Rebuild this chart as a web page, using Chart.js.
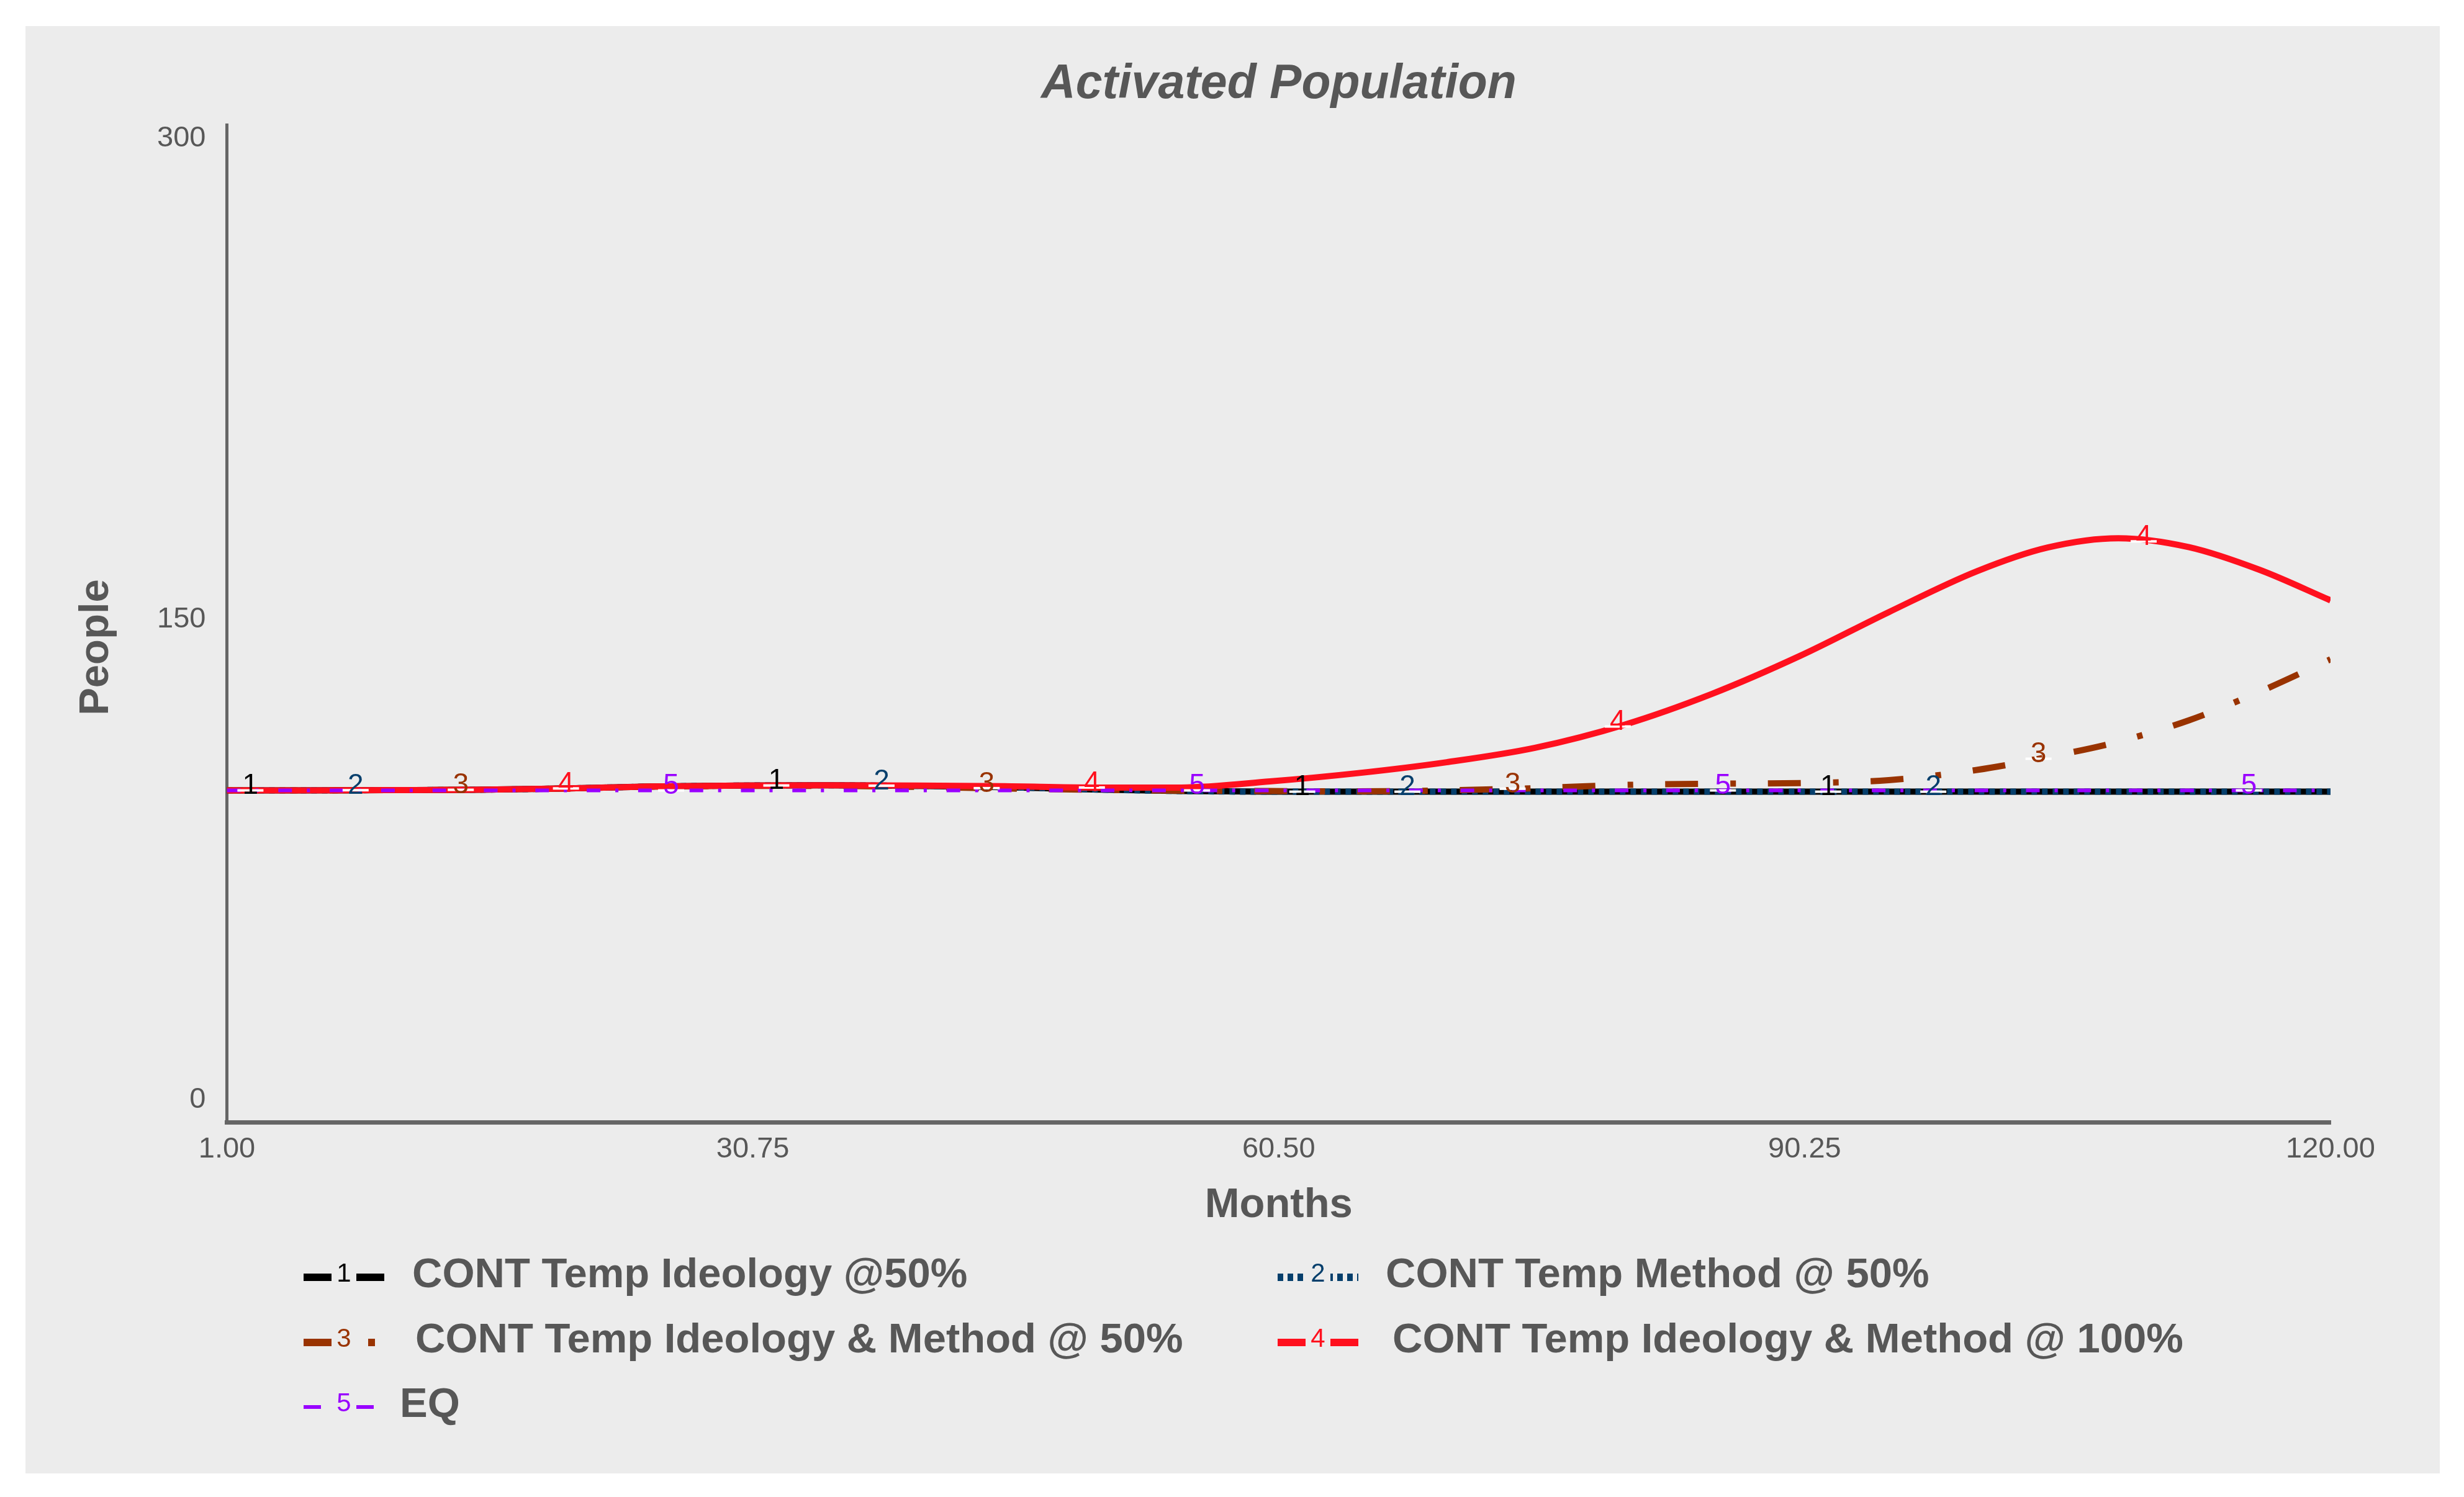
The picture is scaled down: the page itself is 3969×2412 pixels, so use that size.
<!DOCTYPE html>
<html>
<head>
<meta charset="utf-8">
<script src="https://cdn.jsdelivr.net/npm/chart.js@4.4.1/dist/chart.umd.min.js"></script>
<style>
html,body{margin:0;padding:0;background:#ffffff;overflow:hidden}
canvas{display:block}
</style>
</head>
<body>
<canvas id="c" width="3969" height="2412" style="width:3969px;height:2412px"></canvas>
<script>
// ---------------- data ----------------
const months = [1, 5, 10, 15, 20, 25, 30, 35, 40, 45, 50, 55, 60, 65, 70, 75, 80, 85, 90, 95, 100, 104, 108, 112, 116, 120];

const contIdeology50 = [96.6, 96.6, 96.7, 96.8, 97.2, 97.8, 98.1, 98.2, 98.0, 97.6, 96.9, 96.4, 96.2, 96.2, 96.2, 96.2, 96.2, 96.2, 96.2, 96.2, 96.2, 96.2, 96.2, 96.2, 96.2, 96.2];
const contMethod50 = [96.6, 96.6, 96.7, 96.8, 97.2, 97.8, 98.1, 98.2, 98.0, 97.6, 96.9, 96.4, 96.2, 96.2, 96.2, 96.2, 96.2, 96.2, 96.2, 96.2, 96.2, 96.2, 96.2, 96.2, 96.2, 96.2];
const contIdeoMethod50 = [96.6, 96.6, 96.7, 96.8, 97.2, 97.8, 98.0, 98.0, 97.7, 97.2, 96.8, 96.5, 96.4, 96.3, 96.6, 97.3, 98.3, 98.7, 98.9, 99.8, 103.0, 107.0, 111.8, 118.5, 127.4, 137.5];
const contIdeoMethod100 = [96.6, 96.6, 96.7, 96.8, 97.2, 97.8, 98.1, 98.2, 98.1, 97.9, 97.5, 97.5, 99.4, 102.0, 105.4, 109.9, 117.0, 126.7, 138.6, 152.2, 165.0, 172.4, 175.3, 172.5, 165.4, 155.9];
const eq = [96.6, 96.6, 96.6, 96.6, 96.6, 96.6, 96.6, 96.6, 96.6, 96.6, 96.6, 96.6, 96.6, 96.6, 96.6, 96.6, 96.6, 96.6, 96.6, 96.6, 96.6, 96.6, 96.6, 96.6, 96.6, 96.6];

const seriesNames = ['CONT Temp Ideology @50%', 'CONT Temp Method @ 50%', 'CONT Temp Ideology & Method @ 50%', 'CONT Temp Ideology & Method @ 100%', 'EQ'];
const seriesNumbers = ['1', '2', '3', '4', '5'];
const xTickValues = [1, 30.75, 60.5, 90.25, 120];
const yTickValues = [0, 150, 300];

const chartTitle = 'Activated Population';
const xTitle = 'Months';
const yTitle = 'People';

// ---------------- styles ----------------
const allSeries = [contIdeology50, contMethod50, contIdeoMethod50, contIdeoMethod100, eq];
const colors = ['#000000', '#063f6c', '#993300', '#ff101e', '#9900ff'];
const widths = [10, 10, 10, 10, 6];
const dashes = [[], [9, 8], [53, 52, 9, 51.5], [], [22, 24, 5, 31.8]];
const legendDashes = [[], [9, 7], [47, 57, 11, 100], [], [28, 57, 28, 100]];
const drawOrder = [5, 4, 3, 2, 1];
const FONT = '"Liberation Sans", Arial, Helvetica, sans-serif';
const TXT = '#575757';
const BG = '#ececec';

function interp(xs, ys, x) {
  for (let i = 0; i < xs.length - 1; i++) {
    if (x >= xs[i] && x <= xs[i + 1]) {
      const t = (x - xs[i]) / (xs[i + 1] - xs[i]);
      return ys[i] + t * (ys[i + 1] - ys[i]);
    }
  }
  return ys[ys.length - 1];
}

const datasets = allSeries.map((s, i) => ({
  label: seriesNames[i],
  data: months.map((m, j) => ({ x: m, y: s[j] })),
  borderColor: colors[i],
  backgroundColor: colors[i],
  borderWidth: widths[i],
  borderDash: dashes[i],
  borderDashOffset: 0,
  borderCapStyle: 'butt',
  borderJoinStyle: 'round',
  pointRadius: 0,
  pointHoverRadius: 0,
  fill: false,
  cubicInterpolationMode: 'monotone',
  order: drawOrder[i]
}));

const decorPlugin = {
  id: 'decor',
  beforeDraw(chart) {
    const ctx = chart.ctx;
    ctx.save();
    ctx.fillStyle = '#ffffff';
    ctx.fillRect(0, 0, chart.width, chart.height);
    ctx.fillStyle = BG;
    ctx.fillRect(41, 42, 3930 - 41, 2374 - 42);
    ctx.restore();
  },
  afterDatasetsDraw(chart) {
    const ctx = chart.ctx;
    const xs = chart.scales.x, ys = chart.scales.y;
    ctx.save();
    ctx.font = '46px ' + FONT;
    ctx.textAlign = 'center';
    ctx.textBaseline = 'middle';
    const start = 2.33, step = 5.95, period = 29.75;
    for (let k = 0; k < allSeries.length; k++) {
      for (let n = 0; n < 4; n++) {
        const m = start + step * k + period * n;
        if (m > 120) continue;
        const v = interp(months, allSeries[k], m);
        const px = xs.getPixelForValue(m), py = ys.getPixelForValue(v);
        ctx.fillStyle = '#ffffff';
        ctx.fillRect(px - 21, py - 2, 42, 4);
        ctx.fillStyle = colors[k];
        ctx.fillText(seriesNumbers[k], px, py - 7);
      }
    }
    ctx.restore();
  },
  afterDraw(chart) {
    const ctx = chart.ctx;
    ctx.save();
    // y axis title
    ctx.translate(156, 1043);
    ctx.rotate(-Math.PI / 2);
    ctx.font = 'bold 67px ' + FONT;
    ctx.fillStyle = TXT;
    ctx.textAlign = 'center';
    ctx.textBaseline = 'middle';
    ctx.fillText(yTitle, 0, 0);
    ctx.restore();

    // legend
    const symX = [489, 2058, 489, 2058, 489];
    const symY = [2058, 2058, 2163, 2163, 2267];
    const textX = [664, 2232, 669, 2243, 644];
    const symW = 130;
    for (let i = 0; i < seriesNames.length; i++) {
      const x0 = symX[i], y0 = symY[i];
      ctx.save();
      ctx.beginPath();
      ctx.strokeStyle = colors[i];
      ctx.lineWidth = i === 4 ? 6 : 12;
      ctx.lineCap = 'butt';
      ctx.setLineDash(legendDashes[i]);
      ctx.moveTo(x0, y0);
      ctx.lineTo(x0 + symW, y0);
      ctx.stroke();
      ctx.setLineDash([]);
      ctx.fillStyle = BG;
      ctx.fillRect(x0 + symW / 2 - 20, y0 - 8, 40, 16);
      ctx.font = '42px ' + FONT;
      ctx.fillStyle = colors[i];
      ctx.textAlign = 'center';
      ctx.textBaseline = 'middle';
      ctx.fillText(seriesNumbers[i], x0 + symW / 2, y0 - 5);
      ctx.font = 'bold 67px ' + FONT;
      ctx.fillStyle = TXT;
      ctx.textAlign = 'left';
      ctx.textBaseline = 'alphabetic';
      ctx.fillText(seriesNames[i], textX[i], y0 + 16);
      ctx.restore();
    }
  }
};

new Chart(document.getElementById('c'), {
  type: 'line',
  data: { datasets: datasets },
  plugins: [decorPlugin],
  options: {
    responsive: false,
    devicePixelRatio: 1,
    animation: false,
    events: [],
    layout: { padding: { left: 151, right: 0, top: 42, bottom: 403.5 } },
    plugins: {
      legend: { display: false },
      tooltip: { enabled: false },
      title: {
        display: true,
        text: chartTitle,
        color: TXT,
        font: { family: FONT, size: 77, weight: 'bold', style: 'italic' },
        padding: { top: 48.8, bottom: 17.8 }
      }
    },
    scales: {
      x: {
        type: 'linear', position: 'bottom', min: 1, max: 120,
        grid: { display: false, drawTicks: false },
        border: { display: true, color: '#666666', width: 7 },
        ticks: {
          color: TXT, font: { family: FONT, size: 47 }, padding: 15,
          maxRotation: 0, autoSkip: false,
          callback: v => Number(v).toFixed(2)
        },
        afterBuildTicks: s => { s.ticks = xTickValues.map(v => ({ value: v })); },
        afterFit: s => { s.height = 200; },
        title: {
          display: true, text: xTitle, color: TXT,
          font: { family: FONT, size: 67, weight: 'bold' },
          padding: { top: 0, bottom: 26 }
        }
      },
      y: {
        type: 'linear', position: 'left', min: -7, max: 304.3,
        grid: { display: false, drawTicks: false },
        border: { display: true, color: '#666666', width: 5 },
        ticks: {
          color: TXT, font: { family: FONT, size: 47 }, padding: 34,
          callback: v => String(v)
        },
        afterBuildTicks: s => { s.ticks = yTickValues.map(v => ({ value: v })); },
        afterFit: s => { s.width = 214.5; }
      },
      y2: {
        type: 'linear', position: 'right', display: true,
        grid: { display: false, drawTicks: false },
        border: { display: false },
        ticks: { display: false },
        afterFit: s => { s.width = 215; }
      }
    }
  }
});
</script>
</body>
</html>
